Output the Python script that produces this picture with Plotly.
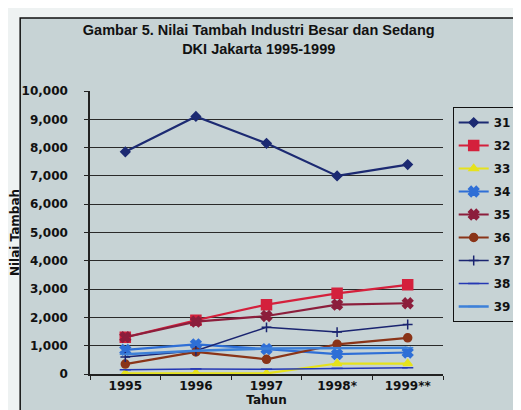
import plotly.graph_objects as go

years = ["1995", "1996", "1997", "1998*", "1999**"]
series_names = ["31", "32", "33", "34", "35", "36", "37", "38", "39"]

s31 = [7850, 9100, 8150, 7000, 7400]
s32 = [1300, 1900, 2450, 2850, 3150]
s33 = [20, 30, 20, 370, 370]
s34 = [850, 1050, 880, 700, 760]
s35 = [1300, 1850, 2050, 2450, 2500]
s36 = [350, 780, 520, 1050, 1280]
s37 = [600, 820, 1650, 1480, 1750]
s38 = [150, 180, 170, 200, 220]
s39 = [700, 820, 900, 920, 930]

yticks = [0, 1000, 2000, 3000, 4000, 5000, 6000, 7000, 8000, 9000, 10000]

values = [s31, s32, s33, s34, s35, s36, s37, s38, s39]
colors = ["#1c2a72", "#d4203c", "#e6e21c", "#2f6fd6", "#8c1e3c",
          "#8a3418", "#1a2470", "#2538b4", "#3d80d8"]
symbols = ["diamond", "square", "triangle-up", "x", "x",
           "circle", "cross-thin", "line-ew", "line-ew"]
msizes = [7, 10, 8, 9, 9, 8, 7, 8, 8]
lwidths = [2.2, 2.2, 2.2, 2.2, 2.2, 2.2, 1.5, 1.5, 2.6]

fig = go.Figure()
for name, vals, c, sym, ms, lw in zip(series_names, values, colors, symbols, msizes, lwidths):
    fig.add_trace(go.Scatter(
        x=years, y=vals, name=name, legendgroup=name,
        mode="lines+markers",
        line=dict(color=c, width=lw),
        marker=dict(symbol=sym, size=ms, color=c, line=dict(color=c, width=1.5)),
    ))

W, H = 521, 410
L, R, T, B = 82, 446, 83, 366
pw, ph = R - L, B - T

def px(x):
    return (x - L) / pw

def py(y):
    return (B - y) / ph

fig.add_shape(type="rect", xref="paper", yref="paper",
              x0=px(10), x1=px(540), y0=py(430), y1=py(10),
              fillcolor="#c7d3d5", line=dict(color="#111111", width=1.5),
              layer="below")

fig.update_layout(
    width=W, height=H,
    margin=dict(l=L, r=W - R, t=T, b=H - B),
    paper_bgcolor="#eef2f2",
    plot_bgcolor="#b8b8b0",
    font=dict(family="DejaVu Sans", size=12, color="#111111"),
    title=dict(
        text="<b>Gambar 5. Nilai Tambah Industri Besar dan Sedang<br>DKI Jakarta 1995-1999</b>",
        font=dict(family="Liberation Sans", size=14.5, color="#111111"),
        x=px(256), xref="paper", xanchor="center",
        y=1 - 27 / H, yref="container", yanchor="middle",
    ),
    legend=dict(
        x=px(456), y=py(99), xanchor="left", yanchor="top",
        bgcolor="#c7d3d5", bordercolor="#111111", borderwidth=1,
        font=dict(family="DejaVu Sans", size=12, color="#111111", weight="bold"),
        tracegroupgap=4,
    ),
    showlegend=True,
)

fig.update_xaxes(
    type="category", range=[-0.5, 4.5], automargin=False,
    showgrid=False, showline=True, linecolor="#222222", linewidth=1.5,
    ticks="outside", tickson="boundaries", ticklen=4, tickcolor="#222222",
    tickfont=dict(family="DejaVu Sans", size=12, color="#111111", weight="bold"),
    title=dict(text="<b>Tahun</b>", standoff=0,
               font=dict(family="DejaVu Sans", size=12, color="#111111")),
    mirror=False,
)
fig.update_yaxes(
    range=[0, 10000], tickvals=yticks, tickformat=",", automargin=False,
    showgrid=True, gridcolor="#2a2a2a", gridwidth=1,
    showline=True, linecolor="#222222", linewidth=1.5,
    ticks="outside", ticklen=4, tickcolor="#222222", ticklabelstandoff=14,
    tickfont=dict(family="DejaVu Sans", size=12, color="#111111", weight="bold"),
    title=dict(text="<b>Nilai Tambah</b>", standoff=0,
               font=dict(family="DejaVu Sans", size=12, color="#111111")),
    zeroline=False,
)

fig.write_html("out.html")
